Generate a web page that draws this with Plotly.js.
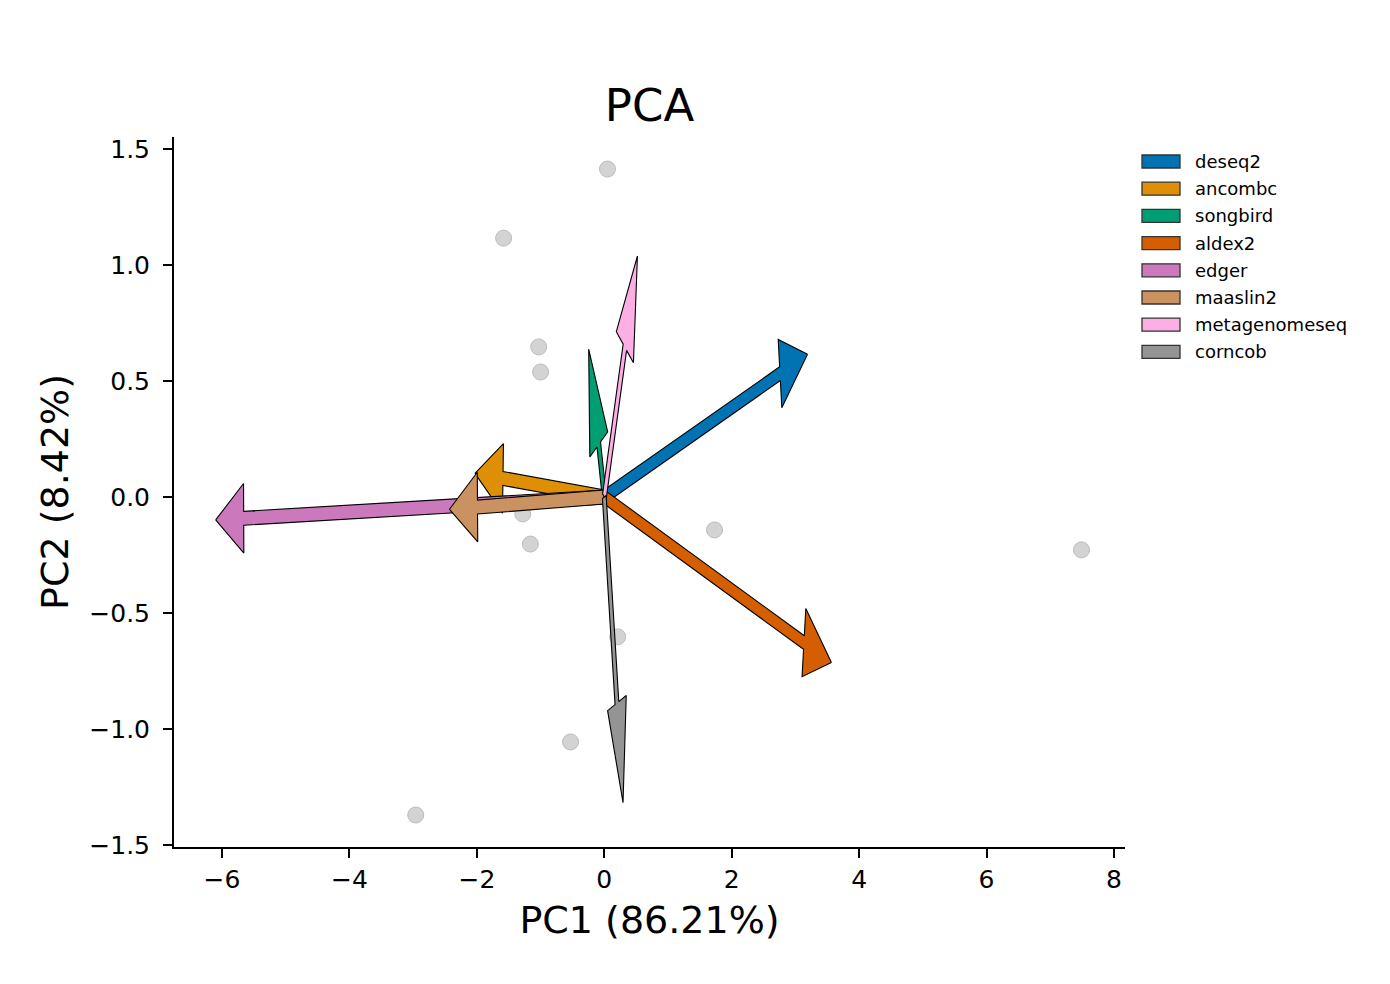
<!DOCTYPE html>
<html>
<head>
<meta charset="utf-8">
<script src="https://cdn.plot.ly/plotly-3.0.1.min.js"></script>
<style>html,body{margin:0;padding:0;background:#fff;}#chart{width:1390px;height:984px;}</style>
</head>
<body>
<div id="chart"></div>
<script>
// Sample scores (gray points)
const sampleX = [0.05, -1.58, -1.03, -1.00, -1.28, -1.16, 1.73, 7.49, 0.21, -0.53, -2.96];
const sampleY = [1.414, 1.116, 0.647, 0.539, -0.073, -0.203, -0.142, -0.228, -0.603, -1.056, -1.371];

// Method loadings (arrow tips)
const methods = ['deseq2', 'ancombc', 'songbird', 'aldex2', 'edger', 'maaslin2', 'metagenomeseq', 'corncob'];
const arrowX = [3.19, -2.03, -0.245, 3.565, -6.10, -2.43, 0.52, 0.294];
const arrowY = [0.615, 0.102, 0.637, -0.714, -0.099, -0.053, 1.039, -1.318];
const colors = ['#0173b2', '#de8f05', '#029e73', '#d55e00', '#cc78bc', '#ca9161', '#fbafe4', '#949494'];

const xTicks = [-6, -4, -2, 0, 2, 4, 6, 8];
const yTicks = [-1.5, -1.0, -0.5, 0.0, 0.5, 1.0, 1.5];

// arrow geometry in data units (like matplotlib FancyArrow)
const SHAFT_W = 0.06, HEAD_W = 0.3, HEAD_L = 0.44;

function arrowPoly(tx, ty) {
  const dist = Math.hypot(tx, ty);
  const cx = tx / dist, sx = ty / dist;
  const left = [[0, 0], [-HEAD_L, -HEAD_W / 2], [-HEAD_L, -SHAFT_W / 2], [-dist, -SHAFT_W / 2], [-dist, 0]];
  const right = left.map(p => [p[0], -p[1]]);
  const coords = left.slice(0, 4).concat([right[3], right[2], right[1], right[0]]);
  const xs = [], ys = [];
  coords.forEach(([x, y]) => {
    xs.push(x * cx - y * sx + tx);
    ys.push(x * sx + y * cx + ty);
  });
  return {xs, ys};
}

const FONT = '"DejaVu Sans", Arial, sans-serif';
const traces = [];
traces.push({
  type: 'scatter', mode: 'markers', x: sampleX, y: sampleY, showlegend: false, hoverinfo: 'skip',
  marker: {size: 16, color: '#d3d3d3', line: {color: '#bdbdbd', width: 1}}
});
methods.forEach((m, i) => {
  const p = arrowPoly(arrowX[i], arrowY[i]);
  traces.push({
    type: 'scatter', mode: 'lines', name: m, x: p.xs, y: p.ys, showlegend: false,
    fill: 'toself', fillcolor: colors[i],
    line: {color: '#000000', width: 1.1}, hoverinfo: 'name'
  });
});

// Legend (patch boxes + labels) placed in paper coordinates
const PL = 174, PR = 1125, PT = 137, PB = 847;
const px2x = px => (px - PL) / (PR - PL);
const py2y = py => (PB - py) / (PB - PT);
const LEG_TOP = 161.5, LEG_STEP = 27.2;
const shapes = [], annotations = [];
methods.forEach((m, i) => {
  const cy = LEG_TOP + i * LEG_STEP;
  shapes.push({
    type: 'rect', xref: 'paper', yref: 'paper',
    x0: px2x(1142), x1: px2x(1180), y0: py2y(cy + 6.5), y1: py2y(cy - 6.5),
    fillcolor: colors[i], line: {color: '#333333', width: 1.3}
  });
  annotations.push({
    xref: 'paper', yref: 'paper', x: px2x(1193), y: py2y(cy), xanchor: 'left', yanchor: 'middle',
    text: m, showarrow: false, font: {size: 18, family: FONT, color: '#000'}
  });
});

const layout = {
  width: 1390, height: 984,
  margin: {l: PL, r: 1390 - PR, t: PT, b: 984 - PB},
  paper_bgcolor: '#ffffff', plot_bgcolor: '#ffffff',
  font: {family: FONT, color: '#000000'},
  title: {text: 'PCA', font: {size: 45, family: FONT}, x: 0.5, xref: 'paper', xanchor: 'center', y: 0.893, yanchor: 'middle'},
  xaxis: {
    range: [-6.754, 8.173], tickvals: xTicks, showgrid: false, zeroline: false,
    showline: true, linewidth: 2, linecolor: '#000', ticks: 'outside', ticklen: 9, tickwidth: 2, tickcolor: '#000',
    tickfont: {size: 25, family: FONT},
    title: {text: 'PC1 (86.21%)', font: {size: 38, family: FONT}, standoff: 13}
  },
  yaxis: {
    range: [-1.509, 1.552], tickvals: yTicks, tickformat: '.1f', showgrid: false, zeroline: false,
    showline: true, linewidth: 2, linecolor: '#000', ticks: 'outside', ticklen: 9, tickwidth: 2, tickcolor: '#000',
    tickfont: {size: 25, family: FONT}, ticklabelstandoff: 8,
    title: {text: 'PC2 (8.42%)', font: {size: 38, family: FONT}, standoff: 9}
  },
  shapes: shapes,
  annotations: annotations,
  showlegend: false
};

Plotly.newPlot('chart', traces, layout, {displayModeBar: false, staticPlot: true});
</script>
</body>
</html>
